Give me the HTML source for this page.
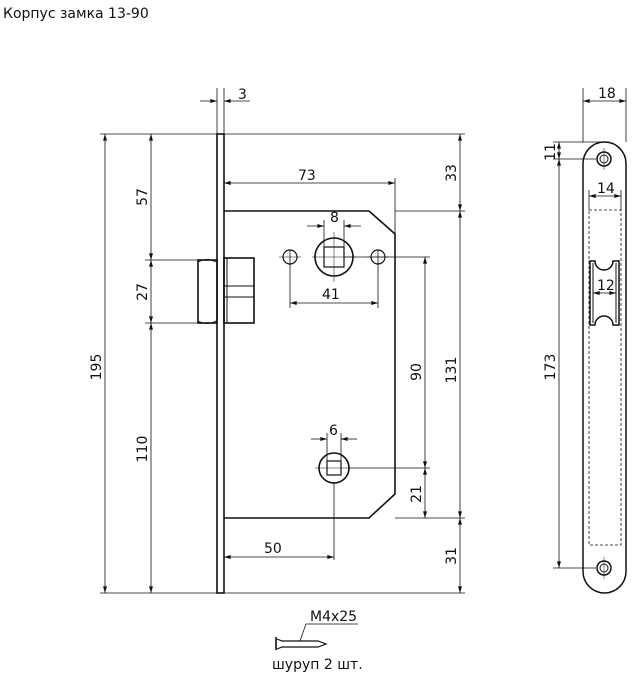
<!DOCTYPE html>
<html><head><meta charset="utf-8"><style>
html,body{margin:0;padding:0;background:#fff}
svg{display:block}
text{font-family:"DejaVu Sans","Liberation Sans",sans-serif;font-size:14px;fill:#111}
</style></head><body>
<svg width="632" height="680" viewBox="0 0 632 680" xmlns="http://www.w3.org/2000/svg">
<defs>
<marker id="a" viewBox="0 0 10 6" refX="10" refY="3" markerWidth="8" markerHeight="4" orient="auto-start-reverse" markerUnits="userSpaceOnUse"><path d="M0,0L10,3L0,6z" fill="#111"/></marker>
</defs>
<text x="3" y="18" style="font-size:14px">Корпус замка 13-90</text>

<g stroke="#111" stroke-width="0.8" fill="none">
<!-- extension lines -->
<line x1="100" y1="134" x2="465" y2="134"/>
<line x1="100" y1="593" x2="465" y2="593"/>
<line x1="395" y1="211" x2="465" y2="211"/>
<line x1="395" y1="518" x2="465" y2="518"/>
<line x1="145" y1="260" x2="198" y2="260"/>
<line x1="145" y1="323" x2="198" y2="323"/>
<line x1="217" y1="88" x2="217" y2="134"/>
<line x1="224" y1="88" x2="224" y2="134"/>
<line x1="395" y1="178" x2="395" y2="234"/>
<line x1="344" y1="257" x2="430" y2="257"/>
<line x1="349" y1="468" x2="430" y2="468"/>
<line x1="290" y1="250" x2="290" y2="308"/>
<line x1="378" y1="250" x2="378" y2="308"/>
<line x1="324" y1="220" x2="324" y2="248"/>
<line x1="344" y1="220" x2="344" y2="248"/>
<line x1="327" y1="433" x2="327" y2="461"/>
<line x1="341" y1="433" x2="341" y2="461"/>
<line x1="334" y1="483" x2="334" y2="560"/>
<!-- dims -->
<line x1="105" y1="134" x2="105" y2="593" marker-start="url(#a)" marker-end="url(#a)"/>
<line x1="151" y1="134" x2="151" y2="260" marker-start="url(#a)" marker-end="url(#a)"/>
<line x1="151" y1="260" x2="151" y2="323" marker-start="url(#a)" marker-end="url(#a)"/>
<line x1="151" y1="323" x2="151" y2="593" marker-start="url(#a)" marker-end="url(#a)"/>
<line x1="460" y1="134" x2="460" y2="211" marker-start="url(#a)" marker-end="url(#a)"/>
<line x1="460" y1="211" x2="460" y2="518" marker-start="url(#a)" marker-end="url(#a)"/>
<line x1="460" y1="518" x2="460" y2="593" marker-start="url(#a)" marker-end="url(#a)"/>
<line x1="425" y1="257" x2="425" y2="468" marker-start="url(#a)" marker-end="url(#a)"/>
<line x1="425" y1="468" x2="425" y2="518" marker-start="url(#a)" marker-end="url(#a)"/>
<line x1="224" y1="183" x2="395" y2="183" marker-start="url(#a)" marker-end="url(#a)"/>
<line x1="290" y1="303" x2="378" y2="303" marker-start="url(#a)" marker-end="url(#a)"/>
<line x1="224" y1="557" x2="334" y2="557" marker-start="url(#a)" marker-end="url(#a)"/>
<line x1="200" y1="101" x2="217" y2="101" marker-end="url(#a)"/>
<line x1="250" y1="101" x2="224" y2="101" marker-end="url(#a)"/>
<line x1="307" y1="226" x2="324" y2="226" marker-end="url(#a)"/>
<line x1="361" y1="226" x2="344" y2="226" marker-end="url(#a)"/>
<line x1="311" y1="439" x2="327" y2="439" marker-end="url(#a)"/>
<line x1="357" y1="439" x2="341" y2="439" marker-end="url(#a)"/>
<!-- center marks -->
<line x1="312" y1="257" x2="356" y2="257" stroke-width="0.5"/>
<line x1="334" y1="232" x2="334" y2="282" stroke-width="0.5"/>
<line x1="279" y1="257" x2="301" y2="257" stroke-width="0.5"/>
<line x1="367" y1="257" x2="389" y2="257" stroke-width="0.5"/>
<line x1="315" y1="468" x2="349" y2="468" stroke-width="0.5"/>
</g>

<g stroke="#111" stroke-width="1.6" fill="none">
<rect x="217" y="134" width="7" height="459"/>
<path d="M224,211 H369 L395,234 V494 L369,518 H224"/>
<rect x="198" y="260" width="19" height="63"/>
<path d="M198,262 Q207,257 216,262 M198,321 Q207,326 216,321" stroke-width="1"/>
<rect x="224" y="258" width="30" height="65"/>
<line x1="224" y1="286" x2="254" y2="286" stroke-width="1"/>
<line x1="224" y1="297" x2="254" y2="297" stroke-width="1"/>
<line x1="227" y1="258" x2="227" y2="323" stroke-width="1"/>
<circle cx="334" cy="257" r="19"/>
<rect x="324" y="247" width="20" height="20" stroke-width="1.2"/>
<circle cx="290" cy="257" r="7" stroke-width="1.2"/>
<circle cx="378" cy="257" r="7" stroke-width="1.2"/>
<circle cx="334" cy="468" r="15"/>
<rect x="327" y="461" width="14" height="14" stroke-width="1.2"/>
</g>

<text x="238" y="99">3</text>
<text x="298" y="180">73</text>
<text x="330" y="222">8</text>
<text x="322" y="299">41</text>
<text x="329" y="435">6</text>
<text x="264" y="553">50</text>
<g>
<text transform="translate(147,197) rotate(-90)" text-anchor="middle">57</text>
<text transform="translate(147,292) rotate(-90)" text-anchor="middle">27</text>
<text transform="translate(147,449) rotate(-90)" text-anchor="middle">110</text>
<text transform="translate(101,367) rotate(-90)" text-anchor="middle">195</text>
<text transform="translate(456,173) rotate(-90)" text-anchor="middle">33</text>
<text transform="translate(456,370) rotate(-90)" text-anchor="middle">131</text>
<text transform="translate(456,556) rotate(-90)" text-anchor="middle">31</text>
<text transform="translate(421,372) rotate(-90)" text-anchor="middle">90</text>
<text transform="translate(421,494) rotate(-90)" text-anchor="middle">21</text>
<text transform="translate(555,152) rotate(-90)" text-anchor="middle">11</text>
<text transform="translate(555,367) rotate(-90)" text-anchor="middle">173</text>
</g>

<!-- strike plate -->
<g stroke="#111" stroke-width="0.8" fill="none">
<line x1="583" y1="88" x2="583" y2="142"/>
<line x1="626" y1="88" x2="626" y2="142"/>
<line x1="583" y1="101" x2="626" y2="101" marker-start="url(#a)" marker-end="url(#a)"/>
<line x1="553" y1="142" x2="600" y2="142"/>
<line x1="553" y1="159" x2="596" y2="159"/>
<line x1="553" y1="568" x2="596" y2="568"/>
<line x1="559" y1="142" x2="559" y2="159" marker-start="url(#a)" marker-end="url(#a)"/>
<line x1="559" y1="159" x2="559" y2="568" marker-start="url(#a)" marker-end="url(#a)"/>
<line x1="589" y1="190" x2="589" y2="210"/>
<line x1="621" y1="190" x2="621" y2="210"/>
<line x1="589" y1="196" x2="621" y2="196" marker-start="url(#a)" marker-end="url(#a)"/>
<line x1="593" y1="293" x2="616" y2="293" marker-start="url(#a)" marker-end="url(#a)"/>
<line x1="604" y1="148" x2="604" y2="170" stroke-width="0.5"/>
<line x1="604" y1="557" x2="604" y2="579" stroke-width="0.5"/>
<rect x="589" y="210" width="32" height="335" stroke-dasharray="3,2"/>
</g>
<g stroke="#111" stroke-width="1.5" fill="none">
<rect x="583" y="142" width="43" height="451" rx="21.5"/>
<circle cx="604" cy="159" r="7"/><circle cx="604" cy="159" r="4" stroke-width="1"/>
<circle cx="604" cy="568" r="7"/><circle cx="604" cy="568" r="4" stroke-width="1"/>
<path d="M590,261 H595 A9,9 0 0 0 613,261 H619 V325 H613 A9,9 0 0 0 595,325 H590 Z"/>
<line x1="593" y1="263" x2="593" y2="323" stroke-width="1"/>
<line x1="616" y1="263" x2="616" y2="323" stroke-width="1"/>
</g>
<text x="598" y="98">18</text>
<text x="597" y="193">14</text>
<text x="597" y="290">12</text>

<!-- screw -->
<g stroke="#111" fill="none">
<line x1="276" y1="637" x2="276" y2="650" stroke-width="1.6"/>
<path d="M277,639 L282,641 H318 L326,644 L318,647 H282 L277,649" stroke-width="1.2"/>
<path d="M300,641 L306,624 H358" stroke-width="0.8"/>
</g>
<text x="310" y="621">M4x25</text>
<text x="272" y="669">шуруп 2 шт.</text>
</svg>
</body></html>
